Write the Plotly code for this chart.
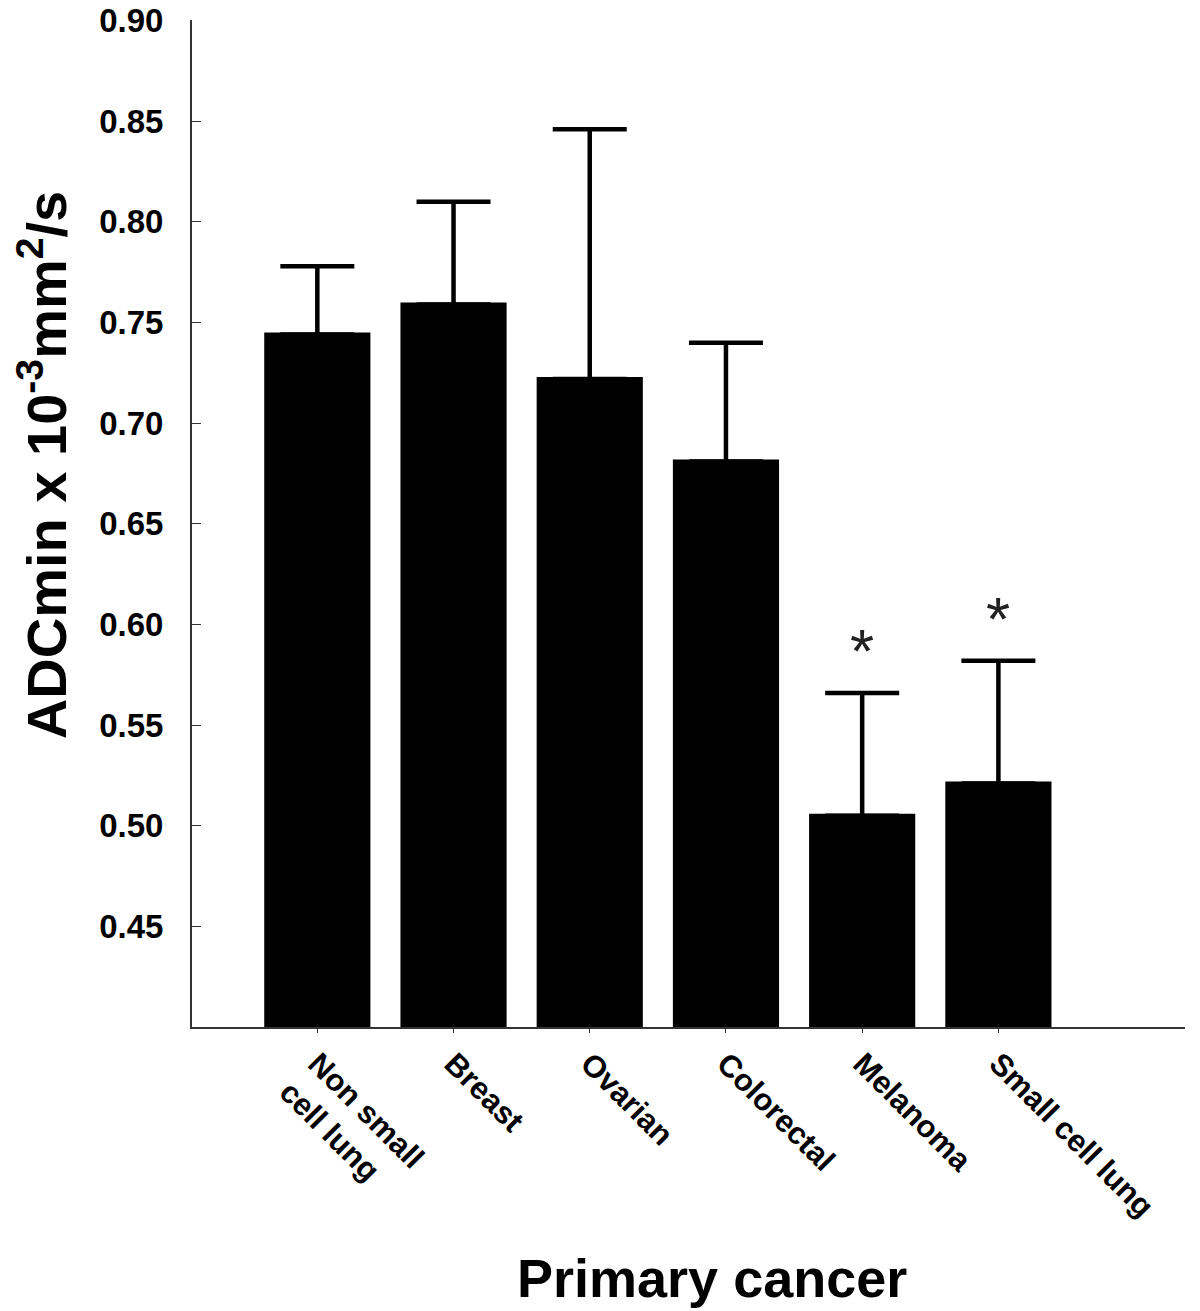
import plotly.graph_objects as go

categories = ["Non small<br>cell lung", "Breast", "Ovarian", "Colorectal", "Melanoma", "Small cell lung"]
mean_values = [0.744, 0.759, 0.722, 0.681, 0.505, 0.521]
upper_errors = [0.034, 0.051, 0.124, 0.059, 0.061, 0.061]
significant = [False, False, False, False, True, True]
y_tick_vals = [0.45, 0.50, 0.55, 0.60, 0.65, 0.70, 0.75, 0.80, 0.85, 0.90]
y_tick_text = ["0.45", "0.50", "0.55", "0.60", "0.65", "0.70", "0.75", "0.80", "0.85", "0.90"]

fig = go.Figure()
fig.add_trace(go.Bar(
    x=categories,
    y=mean_values,
    width=0.75,
    marker=dict(color="black", line=dict(color="black", width=4)),
    error_y=dict(type="data", array=upper_errors, arrayminus=[0] * len(upper_errors),
                 symmetric=False, color="black", thickness=4.5, width=37),
    showlegend=False,
))

for cat, v, e, s in zip(categories, mean_values, upper_errors, significant):
    if s:
        fig.add_annotation(x=cat, y=v + e + 0.021, text="*", showarrow=False,
                           font=dict(family="Liberation Sans, Arial", size=62, color="#222"),
                           xanchor="center", yanchor="middle")

fig.add_annotation(xref="paper", yref="paper", x=0.524, y=-0.249,
                   text="Primary cancer", showarrow=False,
                   font=dict(family="Liberation Sans, Arial", size=54, color="black", weight="bold"),
                   xanchor="center", yanchor="middle")
fig.add_annotation(xref="paper", yref="paper", x=-0.150, y=0.558,
                   text="ADCmin x 10<sup>-3</sup>mm<sup>2</sup>/s", showarrow=False, textangle=-90,
                   font=dict(family="Liberation Sans, Arial", size=56, color="black", weight="bold"),
                   xanchor="center", yanchor="middle")

fig.update_layout(
    width=1192, height=1303,
    margin=dict(l=184, r=15, t=12, b=284),
    paper_bgcolor="white", plot_bgcolor="white",
    xaxis=dict(
        range=[-0.92, 6.37], showline=True, linecolor="#333", linewidth=2,
        ticks="outside", ticklen=4, tickcolor="#333", tickangle=45,
        tickfont=dict(family="Liberation Sans, Arial", size=31, color="black", weight="bold"),
        showgrid=False, zeroline=False, automargin=False,
    ),
    yaxis=dict(
        range=[0.40, 0.9003], showline=True, linecolor="#333", linewidth=2,
        ticks="inside", ticklen=9, tickcolor="#333", ticklabelstandoff=20,
        ticklabeloverflow="allow",
        tickvals=y_tick_vals, ticktext=y_tick_text,
        tickfont=dict(family="Liberation Sans, Arial", size=33, color="black", weight="bold"),
        showgrid=False, zeroline=False, automargin=False,
    ),
)

fig.write_html("out.html")
